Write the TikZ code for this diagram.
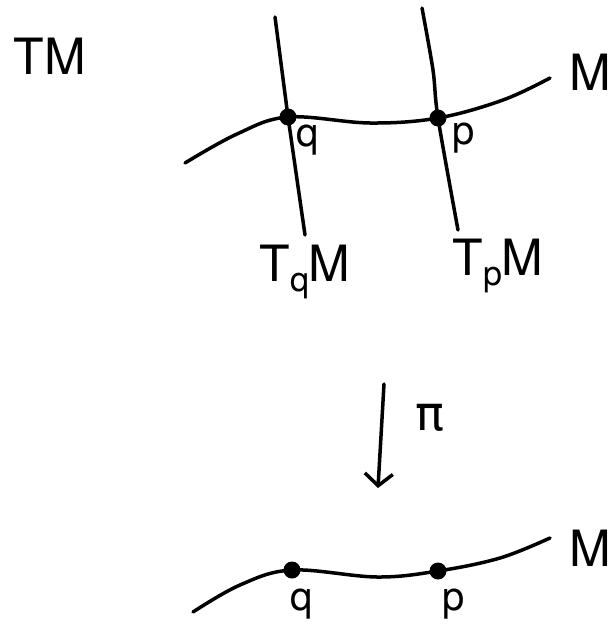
\documentclass[tikz,border=0pt]{standalone}
\usepackage{fontspec}
\setsansfont{TeX Gyre Heros}
\newfontfamily\grk{DejaVu Sans}
\usetikzlibrary{arrows.meta}
\begin{document}
\begin{tikzpicture}[x=1pt,y=-1pt,line width=3.5pt,line cap=round,line join=round,
  dot/.style={circle,fill,inner sep=0pt,minimum size=17pt},
  big/.style={inner sep=0pt,font=\sffamily\fontsize{50}{54}\selectfont},
  small/.style={inner sep=0pt,font=\sffamily\fontsize{40}{44}\selectfont}]
\useasboundingbox (0,0) rectangle (612,627);
% upper picture
\coordinate (ul) at (185,163);
\coordinate (ua) at (237,134);
\coordinate (uq) at (288,117);
\coordinate (um) at (370,123);
\coordinate (up) at (438,118);
\coordinate (ub) at (503,100);
\coordinate (ur) at (550,78);
\draw plot[smooth,tension=0.6] coordinates {(ul) (ua) (uq) (um) (up) (ub) (ur)};
\coordinate (qt) at (275,17);
\coordinate (qb) at (305,235);
\coordinate (pt) at (422,8);
\coordinate (pm) at (433,70);
\coordinate (pb) at (458,230);
\draw (qt) -- (uq) -- (qb);
\draw plot[smooth,tension=0.5] coordinates {(pt) (pm) (up) (pb)};
\node[dot] (q1) at (uq) {};
\node[dot] (p1) at (up) {};
\node[small] (lq1) at (308,140) {q};
\node[small] (lp1) at (464,138) {p};
\node[big] (TM) at (50,56) {TM};
\node[big] (M1) at (590,72) {M};
\node[big] (TqM) at (305,272) {T\raisebox{-0.35ex}{\fontsize{34}{36}\selectfont q}M};
\node[big] (TpM) at (498,266) {T\raisebox{-0.35ex}{\fontsize{34}{36}\selectfont p}M};
% arrow
\coordinate (at) at (384,384);
\coordinate (ab) at (378,488);
\draw[-{Straight Barb[length=12pt,width=28pt,line width=3.5pt]}] (at) -- (ab);
\node[inner sep=0pt,font=\grk\fontsize{48}{52}\selectfont] (pi) at (430,418) {π};
% lower picture
\coordinate (ll) at (193,612);
\coordinate (la) at (240,585);
\coordinate (lq) at (292,570);
\coordinate (lm) at (377,577);
\coordinate (lp) at (438,571);
\coordinate (lb) at (500,558);
\coordinate (lr) at (550,538);
\draw plot[smooth,tension=0.6] coordinates {(ll) (la) (lq) (lm) (lp) (lb) (lr)};
\node[dot] (q2) at (lq) {};
\node[dot] (p2) at (lp) {};
\node[small] (lq2) at (302,604) {q};
\node[small] (lp2) at (454,604) {p};
\node[big] (M2) at (590,548) {M};
\end{tikzpicture}
\end{document}
